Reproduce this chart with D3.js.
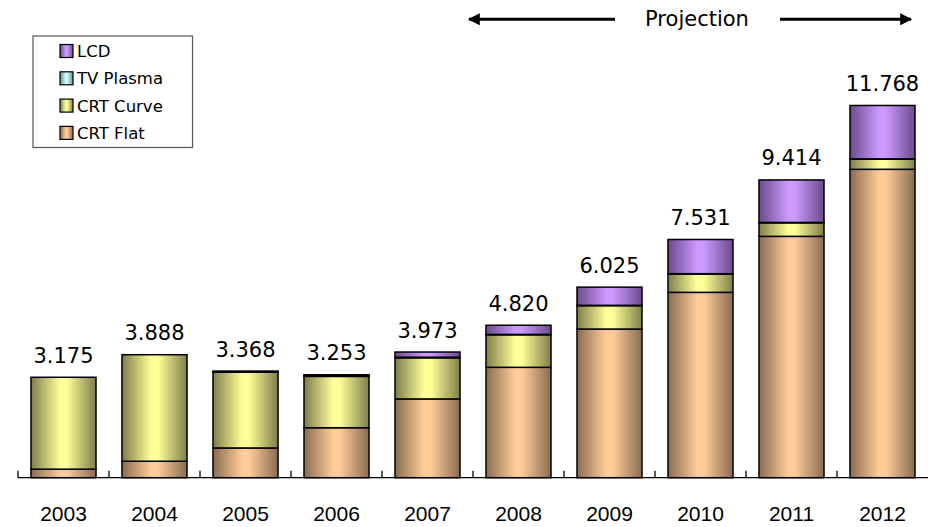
<!DOCTYPE html>
<html><head><meta charset="utf-8">
<script src="https://cdn.jsdelivr.net/npm/d3@7"></script>
<style>html,body{margin:0;padding:0;background:#fff;}svg{display:block;}</style>
</head><body>
<svg id="chart" width="928" height="527"></svg>
<script>
const years = ["2003","2004","2005","2006","2007","2008","2009","2010","2011","2012"];
const crtFlat  = [0.27, 0.52, 0.94, 1.58, 2.49, 3.49, 4.70, 5.86, 7.63, 9.75];
const crtCurve = [2.905, 3.368, 2.398, 1.623, 1.30, 1.03, 0.74, 0.58, 0.43, 0.32];
const tvPlasma = [0, 0, 0.02, 0.03, 0.02, 0.01, 0.01, 0.01, 0.01, 0.01];
const lcd      = [0, 0, 0.01, 0.02, 0.163, 0.29, 0.575, 1.081, 1.344, 1.688];
const totalLabels = ["3.175","3.888","3.368","3.253","3.973","4.820","6.025","7.531","9.414","11.768"];
const seriesNames = ["CRT Flat","CRT Curve","TV Plasma","LCD"];
const legendOrder = ["LCD","TV Plasma","CRT Curve","CRT Flat"];

const colors = {
  "CRT Flat":  {light:"#ffcc99", dark:"#8a6c52"},
  "CRT Curve": {light:"#ffff99", dark:"#7e7e4c"},
  "TV Plasma": {light:"#ccffff", dark:"#6e8a8a"},
  "LCD":       {light:"#cc99ff", dark:"#6a4c8c"}
};

const svg = d3.select("#chart");
const baseY = 477.7;
const x = d3.scaleBand().domain(years).range([18, 928]).paddingInner(0.2857).paddingOuter(0.14285);
const y = d3.scaleLinear().domain([0, 15]).range([baseY, baseY - 15 * 31.63]);

const defs = svg.append("defs");
seriesNames.forEach((s, i) => {
  const g = defs.append("linearGradient").attr("id", "g" + i).attr("x1", "0").attr("x2", "1").attr("y1", "0").attr("y2", "0");
  g.append("stop").attr("offset", "0%").attr("stop-color", colors[s].dark);
  g.append("stop").attr("offset", "45%").attr("stop-color", colors[s].light);
  g.append("stop").attr("offset", "55%").attr("stop-color", colors[s].light);
  g.append("stop").attr("offset", "100%").attr("stop-color", colors[s].dark);
});

const rows = years.map((yr, i) => ({year: yr, "CRT Flat": crtFlat[i], "CRT Curve": crtCurve[i], "TV Plasma": tvPlasma[i], "LCD": lcd[i]}));
const stack = d3.stack().keys(seriesNames)(rows);

stack.forEach((layer, li) => {
  svg.append("g").selectAll("rect").data(layer).join("rect")
    .attr("x", d => x(d.data.year))
    .attr("width", x.bandwidth())
    .attr("y", d => y(d[1]))
    .attr("height", d => Math.max(0, y(d[0]) - y(d[1])))
    .attr("fill", "url(#g" + li + ")")
    .attr("stroke", "#000")
    .attr("stroke-width", 1.5);
});

// axis line and ticks (ticks at band boundaries, pointing up)
const axis = svg.append("g");
axis.append("line").attr("x1", x.range()[0]).attr("x2", x.range()[1]).attr("y1", baseY).attr("y2", baseY).attr("stroke", "#000").attr("stroke-width", 1.3);
axis.selectAll("line.tick").data(years).join("line").attr("class", "tick")
  .attr("x1", d => x(d) - x.step() * x.paddingInner() / 2)
  .attr("x2", d => x(d) - x.step() * x.paddingInner() / 2)
  .attr("y1", baseY).attr("y2", baseY - 7).attr("stroke", "#000").attr("stroke-width", 1.3);

axis.selectAll("text").data(years).join("text")
  .attr("x", d => x(d) + x.bandwidth() / 2)
  .attr("y", 521)
  .attr("text-anchor", "middle")
  .attr("font-family", "Liberation Sans, Arial, sans-serif")
  .attr("font-size", 21)
  .attr("fill", "#000")
  .text(d => d);

// total labels
svg.append("g").selectAll("text").data(years).join("text")
  .attr("x", d => x(d) + x.bandwidth() / 2)
  .attr("y", (d, i) => y(crtFlat[i] + crtCurve[i] + tvPlasma[i] + lcd[i]) - 14.5)
  .attr("text-anchor", "middle")
  .attr("font-family", "DejaVu Sans, Verdana, sans-serif")
  .attr("font-size", 21)
  .attr("fill", "#000")
  .text((d, i) => totalLabels[i]);

// projection header
svg.append("text").attr("x", 697).attr("y", 26).attr("text-anchor", "middle")
  .attr("font-family", "DejaVu Sans, Verdana, sans-serif").attr("font-size", 21).attr("fill", "#000").text("Projection");
defs.append("marker").attr("id", "arr").attr("viewBox", "0 0 10 10").attr("refX", 9).attr("refY", 5)
  .attr("markerWidth", 5).attr("markerHeight", 4).attr("markerUnits", "strokeWidth").attr("orient", "auto-start-reverse")
  .append("path").attr("d", "M0,0 L10,5 L0,10 z").attr("fill", "#000");
svg.append("line").attr("x1", 615).attr("x2", 469).attr("y1", 19.3).attr("y2", 19.3).attr("stroke", "#000").attr("stroke-width", 3).attr("marker-end", "url(#arr)");
svg.append("line").attr("x1", 780).attr("x2", 911).attr("y1", 19.3).attr("y2", 19.3).attr("stroke", "#000").attr("stroke-width", 3).attr("marker-end", "url(#arr)");

// legend
const lg = svg.append("g");
lg.append("rect").attr("x", 33).attr("y", 36).attr("width", 159.5).attr("height", 111.5).attr("fill", "#fff").attr("stroke", "#555").attr("stroke-width", 1.2);
legendOrder.forEach((s, i) => {
  const cy = 51 + i * 27.3;
  lg.append("rect").attr("x", 60).attr("y", cy - 6.5).attr("width", 13).attr("height", 13)
    .attr("fill", "url(#g" + seriesNames.indexOf(s) + ")").attr("stroke", "#000").attr("stroke-width", 1.2);
  lg.append("text").attr("x", 77).attr("y", cy + 6).attr("font-family", "DejaVu Sans, Verdana, sans-serif")
    .attr("font-size", 16.5).attr("fill", "#000").text(s);
});
</script>
</body></html>
